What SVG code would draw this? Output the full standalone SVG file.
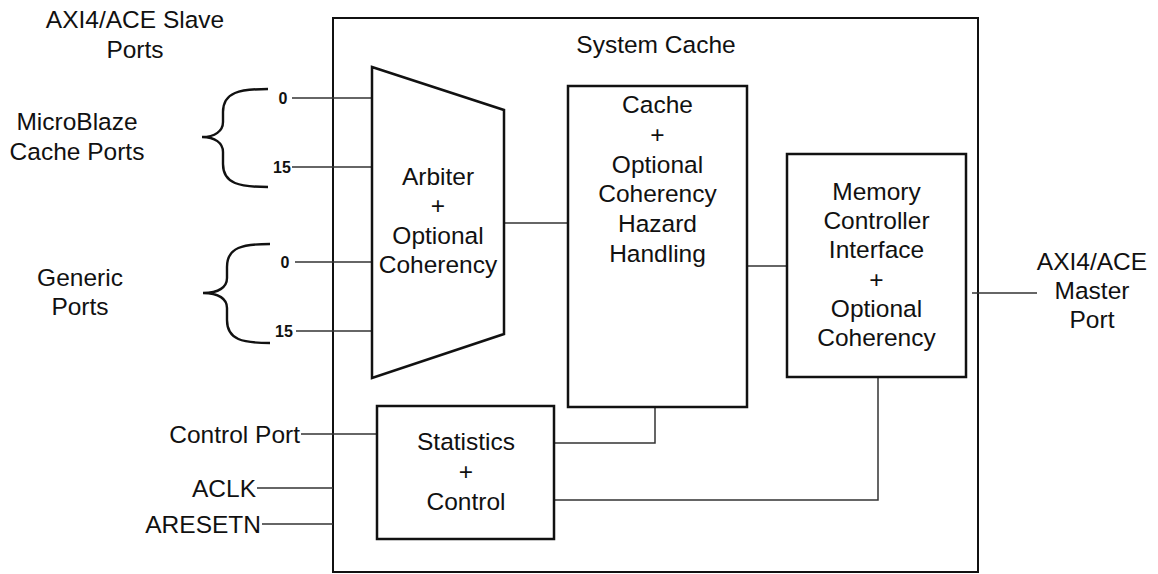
<svg xmlns="http://www.w3.org/2000/svg" width="1158" height="574" viewBox="0 0 1158 574">
<style>
text{font-family:"Liberation Sans",Arial,sans-serif;font-size:24.5px;fill:#111;text-anchor:middle}
.num{font-weight:700;font-size:16px}
.box{fill:#fff;stroke:#111;stroke-width:2.5}
.outer{fill:#fff;stroke:#111;stroke-width:2}
.wire{fill:none;stroke:#333;stroke-width:1.5}
.brace{fill:none;stroke:#111;stroke-width:2.4}
</style>
<rect width="1158" height="574" fill="#fff"/>
<g id="system-cache">
<rect class="outer" x="333" y="18" width="645" height="554"/>
<text x="656" y="53">System Cache</text>
</g>
<g id="labels-left">
<text x="135" y="28">AXI4/ACE Slave</text>
<text x="135" y="58">Ports</text>
<text x="77" y="130">MicroBlaze</text>
<text x="77" y="160">Cache Ports</text>
<text x="80" y="286">Generic</text>
<text x="80" y="315">Ports</text>
<path class="brace" d="M268,89 C240,89 223,92 223,112 L223,122 C223,131 215,137 202,137 C215,137 223,143 223,152 L223,164 C223,184 240,187 268,187"/>
<path class="brace" d="M270,244 C243,244 227,247 227,267 L227,278 C227,287 219,293 203,293 C219,293 227,299 227,308 L227,320 C227,340 243,343 270,343"/>
<text class="num" x="283" y="104">0</text>
<text class="num" x="282" y="173">15</text>
<text class="num" x="285" y="268">0</text>
<text class="num" x="284" y="337">15</text>
</g>
<g id="connectors">
<line class="wire" x1="292" y1="98" x2="372" y2="98"/>
<line class="wire" x1="292" y1="167" x2="372" y2="167"/>
<line class="wire" x1="295" y1="262" x2="372" y2="262"/>
<line class="wire" x1="296" y1="331" x2="373" y2="331"/>
<line class="wire" x1="504" y1="223" x2="568" y2="223"/>
<line class="wire" x1="747" y1="266" x2="787" y2="266"/>
<line class="wire" x1="972" y1="293" x2="1037" y2="293"/>
<polyline class="wire" points="655,407 655,443 555,443"/>
<polyline class="wire" points="878,377 878,500 555,500"/>
<line class="wire" x1="301" y1="434" x2="376" y2="434"/>
<line class="wire" x1="257" y1="488" x2="333" y2="488"/>
<line class="wire" x1="262" y1="524" x2="333" y2="524"/>
</g>
<g id="arbiter">
<polygon class="box" points="372,67 504,110 504,334 372,378"/>
<text x="438" y="185">Arbiter</text>
<text x="438" y="214">+</text>
<text x="438" y="244">Optional</text>
<text x="438" y="273">Coherency</text>
</g>
<g id="cache">
<rect class="box" x="568" y="86" width="179" height="321"/>
<text x="657.5" y="113">Cache</text>
<text x="657.5" y="143">+</text>
<text x="657.5" y="173">Optional</text>
<text x="657.5" y="202">Coherency</text>
<text x="657.5" y="232">Hazard</text>
<text x="657.5" y="262">Handling</text>
</g>
<g id="memory-controller">
<rect class="box" x="787" y="154" width="179" height="223"/>
<text x="876.5" y="200">Memory</text>
<text x="876.5" y="229">Controller</text>
<text x="876.5" y="258">Interface</text>
<text x="876.5" y="288">+</text>
<text x="876.5" y="317">Optional</text>
<text x="876.5" y="346">Coherency</text>
</g>
<g id="statistics">
<rect class="box" x="377" y="406" width="177" height="133"/>
<text x="466" y="450">Statistics</text>
<text x="466" y="480">+</text>
<text x="466" y="510">Control</text>
</g>
<g id="labels-right">
<text x="1092" y="270">AXI4/ACE</text>
<text x="1092" y="299">Master</text>
<text x="1092" y="328">Port</text>
<text x="300" y="443" style="text-anchor:end">Control Port</text>
<text x="256" y="497" style="text-anchor:end">ACLK</text>
<text x="261" y="533" style="text-anchor:end">ARESETN</text>
</g>
</svg>
